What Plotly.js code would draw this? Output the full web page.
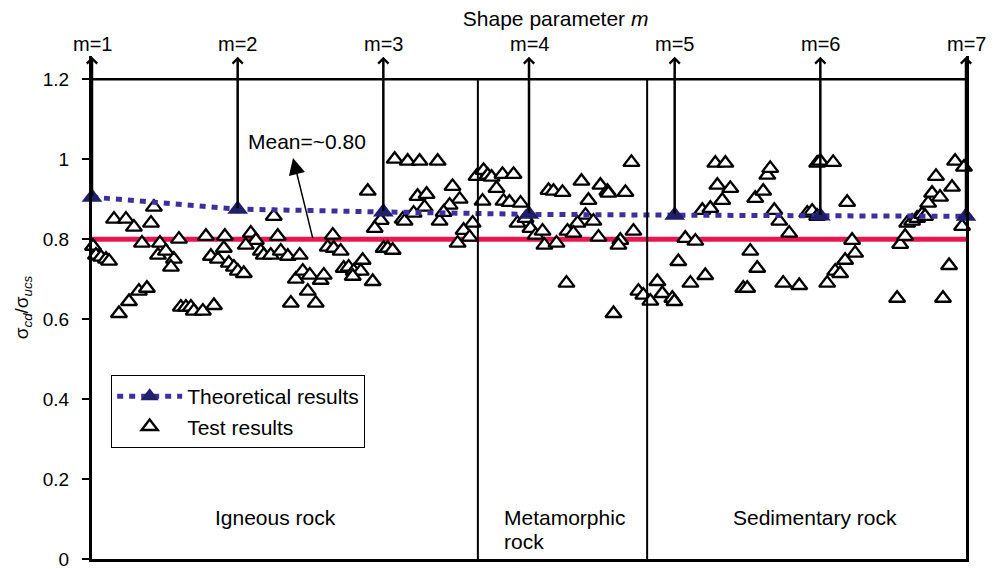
<!DOCTYPE html>
<html><head><meta charset="utf-8">
<script src="https://cdn.plot.ly/plotly-3.0.1.min.js"></script>
<style>html,body{margin:0;padding:0;background:#fff}#chart{width:994px;height:569px}</style>
</head><body><div id="chart"></div>
<script>
// ---- data ----
const shapeParams = [1, 2, 3, 4, 5, 6, 7];
const mLabels = ['m=1', 'm=2', 'm=3', 'm=4', 'm=5', 'm=6', 'm=7'];
const theoreticalRatio = [0.905, 0.875, 0.868, 0.862, 0.860, 0.858, 0.857];
const meanRatio = 0.80;
const rockBoundaries = [3.649, 4.811];
const yTickVals = [0, 0.2, 0.4, 0.6, 0.8, 1, 1.2];
const yTickLabels = ['0', '0.2', '0.4', '0.6', '0.8', '1', '1.2'];

const testM = [
 1.007,1.027,1.062,1.096,1.117,1.151,1.233,1.288,1.343,1.425,1.405,1.466,1.453,1.507,1.562,1.542,1.597,
 1.185,1.254,1.322,1.377,1.610,1.645,1.679,1.699,1.761,1.837,1.782,1.912,1.816,1.864,1.905,1.939,1.974,
 2.001,2.042,2.090,2.125,2.056,2.159,2.179,2.227,2.248,2.275,2.296,2.344,2.426,2.399,2.447,2.495,2.570,
 2.591,2.481,2.365,2.536,2.653,2.618,2.659,2.707,2.728,2.762,2.797,2.858,2.845,2.790,2.927,2.893,3.078,
 3.167,3.249,3.373,2.982,2.941,3.002,3.030,3.064,3.133,3.146,3.235,3.297,3.208,3.283,3.386,3.475,3.524,
 3.455,3.414,3.613,3.551,3.592,3.510,3.640,3.688,3.716,3.743,3.818,3.894,3.777,3.681,3.825,3.866,3.942,
 3.921,3.976,4.010,4.045,4.093,4.106,4.189,4.134,4.168,4.230,4.360,4.408,4.388,4.442,4.333,4.264,4.305,
 4.477,4.490,4.538,4.545,4.662,4.627,4.614,4.717,4.703,4.257,4.580,4.751,4.785,4.833,4.881,4.915,4.984,
 4.998,5.073,5.142,5.025,5.108,5.210,5.190,5.245,5.279,5.348,5.293,5.382,5.327,5.553,5.608,5.636,5.656,
 5.519,5.567,5.471,5.498,5.684,5.718,5.786,5.745,5.855,5.910,5.978,5.999,6.088,5.944,5.978,6.184,6.218,
 6.239,6.170,6.102,6.136,6.047,6.527,6.548,6.582,6.596,6.630,6.664,6.698,6.719,6.740,6.767,6.822,6.794,
 6.904,6.842,6.884,6.925,6.986,6.973
];
const testRatio = [
 0.782,0.760,0.755,0.750,0.745,0.850,0.850,0.830,0.790,0.880,0.840,0.790,0.760,0.770,0.750,0.730,0.800,
 0.614,0.644,0.670,0.677,0.630,0.630,0.630,0.620,0.620,0.634,0.807,0.807,0.757,0.750,0.777,0.740,0.730,
 0.720,0.714,0.815,0.797,0.785,0.770,0.760,0.760,0.857,0.807,0.770,0.757,0.760,0.700,0.720,0.710,0.697,
 0.710,0.670,0.640,0.640,0.810,0.780,0.777,0.770,0.727,0.730,0.720,0.747,0.720,0.707,0.694,0.920,1.000,
 0.995,0.995,0.995,0.847,0.827,0.777,0.777,0.772,0.850,0.845,0.907,0.912,0.865,0.880,0.845,0.932,0.900,
 0.885,0.867,0.840,0.822,0.805,0.790,0.957,0.972,0.960,0.955,0.962,0.962,0.927,0.895,0.895,0.892,0.890,
 0.840,0.852,0.827,0.810,0.820,0.785,0.790,0.922,0.920,0.917,0.945,0.897,0.860,0.845,0.840,0.820,0.815,
 0.805,0.935,0.920,0.915,0.917,0.797,0.785,0.820,0.992,0.690,0.614,0.670,0.660,0.645,0.694,0.664,0.652,
 0.644,0.802,0.795,0.744,0.690,0.709,0.872,0.877,0.990,0.990,0.935,0.927,0.897,0.902,0.920,0.960,0.977,
 0.770,0.727,0.677,0.677,0.872,0.845,0.815,0.690,0.684,0.865,0.990,0.995,0.992,0.870,0.857,0.892,0.797,
 0.765,0.747,0.720,0.714,0.690,0.652,0.787,0.807,0.840,0.845,0.852,0.862,0.857,0.890,0.915,0.905,0.957,
 0.930,0.652,0.734,0.995,0.980,0.832
];

// ---- chart ----
const FONT = 'Liberation Sans, Arial, Helvetica, sans-serif';

const testTrace = {
  type: 'scatter', mode: 'markers', name: 'Test results',
  x: testM, y: testRatio, cliponaxis: false,
  marker: {symbol: 'triangle-up', size: 14, color: '#ffffff', line: {color: '#000000', width: 2.4}}
};
const theoTrace = {
  type: 'scatter', mode: 'lines+markers', name: 'Theoretical results',
  x: shapeParams, y: theoreticalRatio, cliponaxis: false,
  line: {color: '#3d2f9c', width: 5, dash: '6px,6px'},
  marker: {symbol: 'triangle-up', size: 18, color: '#1f1f6b'}
};

const shapes = [
  {type: 'line', xref: 'x', yref: 'y', x0: shapeParams[0], x1: shapeParams[shapeParams.length - 1],
   y0: meanRatio, y1: meanRatio, line: {color: '#e8174f', width: 5}, layer: 'below'},
  {type: 'line', xref: 'x', yref: 'y', x0: shapeParams[0], x1: shapeParams[shapeParams.length - 1],
   y0: 1.2, y1: 1.2, line: {color: '#000', width: 2.5}}
];
rockBoundaries.forEach(b => shapes.push({type: 'line', xref: 'x', yref: 'y', x0: b, x1: b, y0: 0, y1: 1.2,
  line: {color: '#000', width: 2}}));

const annotations = [];
shapeParams.forEach((m, i) => {
  annotations.push({x: m, xref: 'x', y: 1.024, yref: 'paper', yanchor: 'middle', xanchor: 'center',
    text: mLabels[i], showarrow: false, font: {size: 20, family: FONT, color: '#000'}});
  annotations.push({x: m, xref: 'x', y: 1.256, yref: 'y', ax: m, axref: 'x', ay: theoreticalRatio[i], ayref: 'y',
    text: ' ', font: {size: 1}, borderpad: 0, showarrow: true, arrowhead: 4, arrowsize: 0.8, arrowwidth: 2.5,
    arrowcolor: '#000'});
});
annotations.push({x: 2.479, xref: 'x', y: 1.043, yref: 'y', text: 'Mean=~0.80', showarrow: false,
  font: {size: 21, family: FONT, color: '#000'}});
annotations.push({x: 2.380, xref: 'x', y: 1.003, yref: 'y', ax: 2.517, axref: 'x', ay: meanRatio, ayref: 'y',
  text: ' ', font: {size: 1}, borderpad: 0, showarrow: true, arrowhead: 2, arrowsize: 2.2, arrowwidth: 1.5,
  arrowcolor: '#000'});
annotations.push({x: 2.260, xref: 'x', y: 0.105, yref: 'y', text: 'Igneous rock', showarrow: false,
  font: {size: 21, family: FONT, color: '#000'}});
annotations.push({x: 3.815, xref: 'x', xanchor: 'left', y: 0.105, yref: 'y', text: 'Metamorphic', showarrow: false,
  font: {size: 21, family: FONT, color: '#000'}});
annotations.push({x: 3.815, xref: 'x', xanchor: 'left', y: 0.045, yref: 'y', text: 'rock', showarrow: false,
  font: {size: 21, family: FONT, color: '#000'}});
annotations.push({x: 5.963, xref: 'x', y: 0.105, yref: 'y', text: 'Sedimentary rock', showarrow: false,
  font: {size: 21, family: FONT, color: '#000'}});

const layout = {
  width: 994, height: 569,
  margin: {l: 92, r: 28, t: 56, b: 10},
  paper_bgcolor: '#ffffff', plot_bgcolor: '#ffffff',
  font: {family: FONT, color: '#000'},
  showlegend: true,
  legend: {x: 0.0217, y: 0.366, xanchor: 'left', yanchor: 'top', bordercolor: '#000', borderwidth: 1.2,
    bgcolor: '#fff', font: {size: 21, family: FONT}, itemwidth: 65, traceorder: 'reversed', tracegroupgap: 0},
  title: {text: 'Shape parameter <i>m</i>', x: 0.559, xref: 'container', xanchor: 'center',
    y: 0.9666, yref: 'container', yanchor: 'middle', font: {size: 21, family: FONT, color: '#000'}},
  xaxis: {range: [1, 7], showgrid: false, zeroline: false, showticklabels: false, ticks: '',
    showline: true, linecolor: '#000', linewidth: 3, fixedrange: true},
  yaxis: {range: [0, 1.258], tickmode: 'array', tickvals: yTickVals, ticktext: yTickLabels,
    ticks: 'outside', ticklen: 7, tickwidth: 2.5, tickcolor: '#000', showline: true, mirror: true,
    linecolor: '#000', linewidth: 3, showgrid: false, zeroline: false, fixedrange: true,
    tickfont: {size: 19, family: FONT, color: '#000'}, ticklabelstandoff: 9, ticklabeloverflow: 'allow',
    title: {text: 'σ<sub><i>cd</i></sub>/σ<sub><i>ucs</i></sub>', font: {size: 19, family: FONT, color: '#000'}, standoff: 10}},
  shapes: shapes,
  annotations: annotations
};

Plotly.newPlot('chart', [testTrace, theoTrace], layout, {displayModeBar: false, staticPlot: true});
</script>
</body></html>
